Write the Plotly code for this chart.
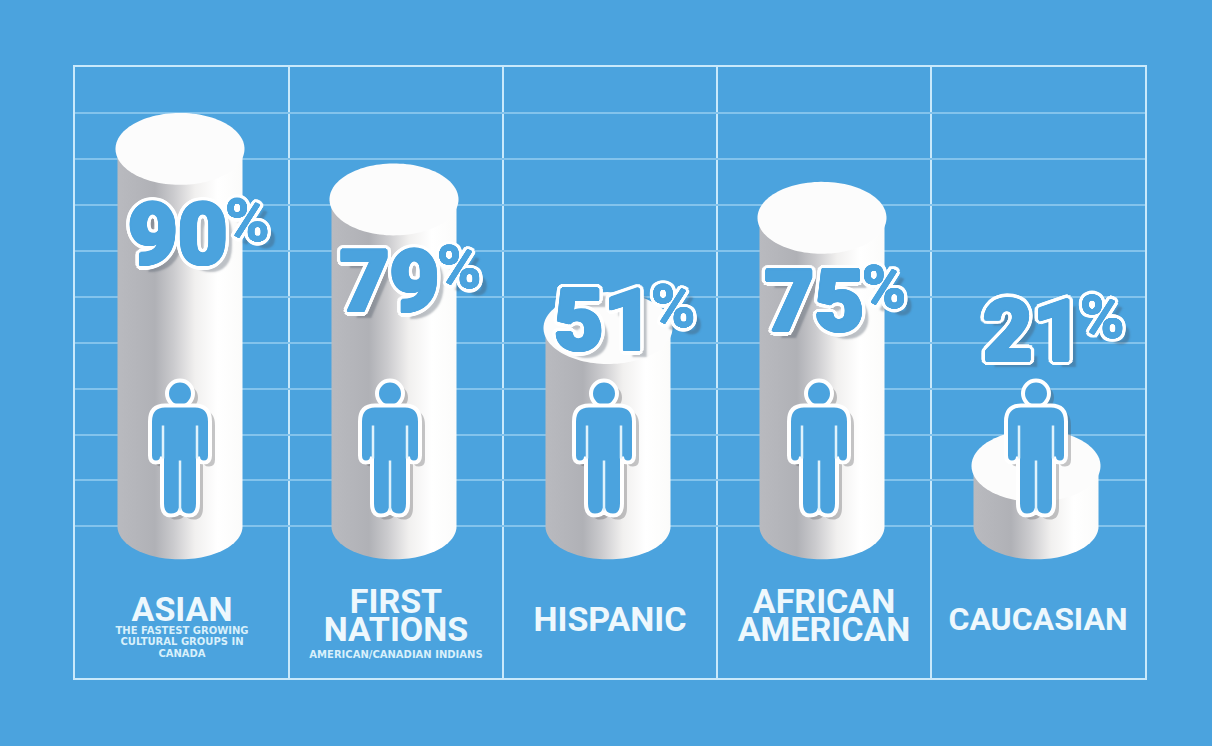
import numpy as np
import plotly.graph_objects as go

# values
positions = [0, 1, 2, 3, 4]
percents = [90, 79, 51, 75, 21]
number_labels = ["90", "79", "51", "75", "21"]
label_x = [-0.02, -0.03, -0.03, -0.045, -0.025]
label_y = [61.8, 51.6, 43.1, 47.3, 40.8]
name_lines = [["ASIAN"], ["FIRST", "NATIONS"], ["HISPANIC"], ["AFRICAN", "AMERICAN"], ["CAUCASIAN"]]
name_y = [[-18.7], [-16.9, -23.2], [-20.9], [-16.9, -23.2], [-20.9]]
name_size = [34, 34, 34, 34, 32]
note_lines = ["THE FASTEST GROWING", "CULTURAL GROUPS IN", "CANADA", "AMERICAN/CANADIAN INDIANS"]
note_x = [0, 0, 0, 1]
note_y = [-22.8, -25.3, -27.8, -28.0]
grid_levels = [0, 10, 20, 30, 40, 50, 60, 70, 80, 90]
icon_shift = [0, -4, -4, -3, 0]

BLUE = "#4ba3de"
FRAME = "#c9e9fb"
GRID = "#83c3ec"
FONT = "Roboto"

UNIT_X = 214.0  # px per panel
UNIT_Y = 4.6    # px per percent
RX = 64.5 / UNIT_X
SIDE = 62.5 / UNIT_X
RY = 36 / UNIT_Y
SHIFT = -2 / UNIT_X


def outline(radius=5, inner=1.5):
    # plotly has no text stroke, so stack text-shadows: thicker blue glyph, white ring, drop shadow
    parts = []
    for a in np.linspace(0, 2 * np.pi, 12, endpoint=False):
        parts.append(f"{inner * np.cos(a):.1f}px {inner * np.sin(a):.1f}px 0 {BLUE}")
    for a in np.linspace(0, 2 * np.pi, 20, endpoint=False):
        parts.append(f"{radius * np.cos(a):.1f}px {radius * np.sin(a):.1f}px 0.5px #fff")
    parts.append("8px 7px 2px rgba(70,80,95,0.35)")
    return ", ".join(parts)


fig = go.Figure()

for x, pct in zip(positions, percents):
    cx = x + SHIFT
    top = pct - RY  # ellipse top edge sits on the value
    t = np.linspace(np.pi, 2 * np.pi, 60)
    side_x = np.concatenate([cx + SIDE * np.cos(t), [cx + SIDE, cx - SIDE, cx - SIDE]])
    side_y = np.concatenate([33 / UNIT_Y * np.sin(t), [top, top, 0]])
    fig.add_trace(go.Scatter(
        x=side_x, y=side_y, mode="lines", line=dict(width=0, simplify=False), fill="toself",
        fillgradient=dict(type="horizontal", colorscale=[
            [0, "#b9babf"], [0.3, "#b0b1b6"], [0.45, "#cbcbce"], [0.62, "#f1f0ef"], [0.8, "#ffffff"], [1, "#fbfbfa"]]),
        hoverinfo="skip", showlegend=False))
    t = np.linspace(0, 2 * np.pi, 120)
    fig.add_trace(go.Scatter(
        x=cx + RX * np.cos(t), y=top + RY * np.sin(t), mode="lines", line=dict(width=0, simplify=False),
        fill="toself", fillcolor="#fcfcfc", hoverinfo="skip", showlegend=False))

# big numbers and the smaller percent signs
fig.add_trace(go.Scatter(
    x=[p + d for p, d in zip(positions, label_x)], y=label_y, mode="text", text=number_labels,
    textposition="middle center",
    textfont=dict(family=FONT, size=86, weight=900, color=BLUE, shadow=outline(5, 1.5)),
    hoverinfo="skip", showlegend=False))
fig.add_trace(go.Scatter(
    x=[p + d + 0.325 for p, d in zip(positions, label_x)], y=[v + 3.6 for v in label_y], mode="text",
    text=["%"] * 5, textposition="middle center",
    textfont=dict(family=FONT, size=60, weight=700, color=BLUE, shadow=outline(4, 0.5)),
    hoverinfo="skip", showlegend=False))

# group names
for x, lines, ys, size in zip(positions, name_lines, name_y, name_size):
    fig.add_trace(go.Scatter(
        x=[x] * len(lines), y=ys, mode="text", text=lines, textposition="middle center",
        textfont=dict(family=FONT, size=size, weight=700, color="#eef8fd"),
        hoverinfo="skip", showlegend=False))
fig.add_trace(go.Scatter(
    x=note_x, y=note_y, mode="text", text=note_lines, textposition="middle center",
    textfont=dict(family="DejaVu Sans", size=10, weight=700, color="#d8f0fb"),
    hoverinfo="skip", showlegend=False))

# person icon: path in px around an anchor on the axes, y up
BODY = ("M -15,45 L 15,45 Q 30,45 30,29 L 30,-5 Q 30,-12 24,-12 Q 18,-12 18,-6 L 18,-53 "
        "Q 18,-65 9,-65 Q 2,-65 0,-60 Q -2,-65 -9,-65 Q -18,-65 -18,-53 L -18,-6 "
        "Q -18,-12 -24,-12 Q -30,-12 -30,-5 L -30,29 Q -30,45 -15,45 Z")
LINES = "M 17,25 L 17,-8 M -17,25 L -17,-8 M 0,-10 L 0,-60"
ICON_Y = 16.5
shadow = dict(fillcolor="rgba(80,80,85,0.32)", line=dict(width=0))
ink = dict(fillcolor=BLUE, line=dict(color="#fff", width=4))


def head(ax, ay, style):
    return dict(type="circle", xref="x", yref="y", xsizemode="pixel", ysizemode="pixel",
                xanchor=ax, yanchor=ay, x0=-13, x1=13, y0=44, y1=70, layer="above", **style)


def path(d, ax, ay, style):
    return dict(type="path", path=d, xref="x", yref="y", xsizemode="pixel", ysizemode="pixel",
                xanchor=ax, yanchor=ay, layer="above", **style)


shapes = []
for x, shift in zip(positions, icon_shift):
    ax = x + SHIFT + shift / UNIT_X
    sx, sy = ax + 5 / UNIT_X, ICON_Y - 4 / UNIT_Y
    shapes += [head(sx, sy, shadow), path(BODY, sx, sy, shadow),
               head(ax, ICON_Y, ink), path(BODY, ax, ICON_Y, ink),
               path(LINES, ax, ICON_Y, dict(line=dict(color="#dff2fc", width=2.5)))]

fig.update_layout(
    width=1212, height=746, margin=dict(l=75, r=67, t=67, b=68),
    paper_bgcolor=BLUE, plot_bgcolor=BLUE, showlegend=False, shapes=shapes,
    xaxis=dict(range=[-0.5, 4.5], tickmode="linear", tick0=-0.5, dtick=1, showticklabels=False,
               ticks="", showgrid=True, gridcolor=FRAME, gridwidth=1.6, zeroline=False,
               showline=True, mirror=True, linecolor=FRAME, linewidth=2),
    yaxis=dict(range=[-33, 100], tickmode="array", tickvals=grid_levels, showticklabels=False,
               ticks="", showgrid=True, gridcolor=GRID, gridwidth=1.6, zeroline=False,
               showline=True, mirror=True, linecolor=FRAME, linewidth=2),
)

fig.write_html("out.html", config={"displayModeBar": False},
               post_script="document.body.style.margin='0';document.body.style.background='%s';" % BLUE)
